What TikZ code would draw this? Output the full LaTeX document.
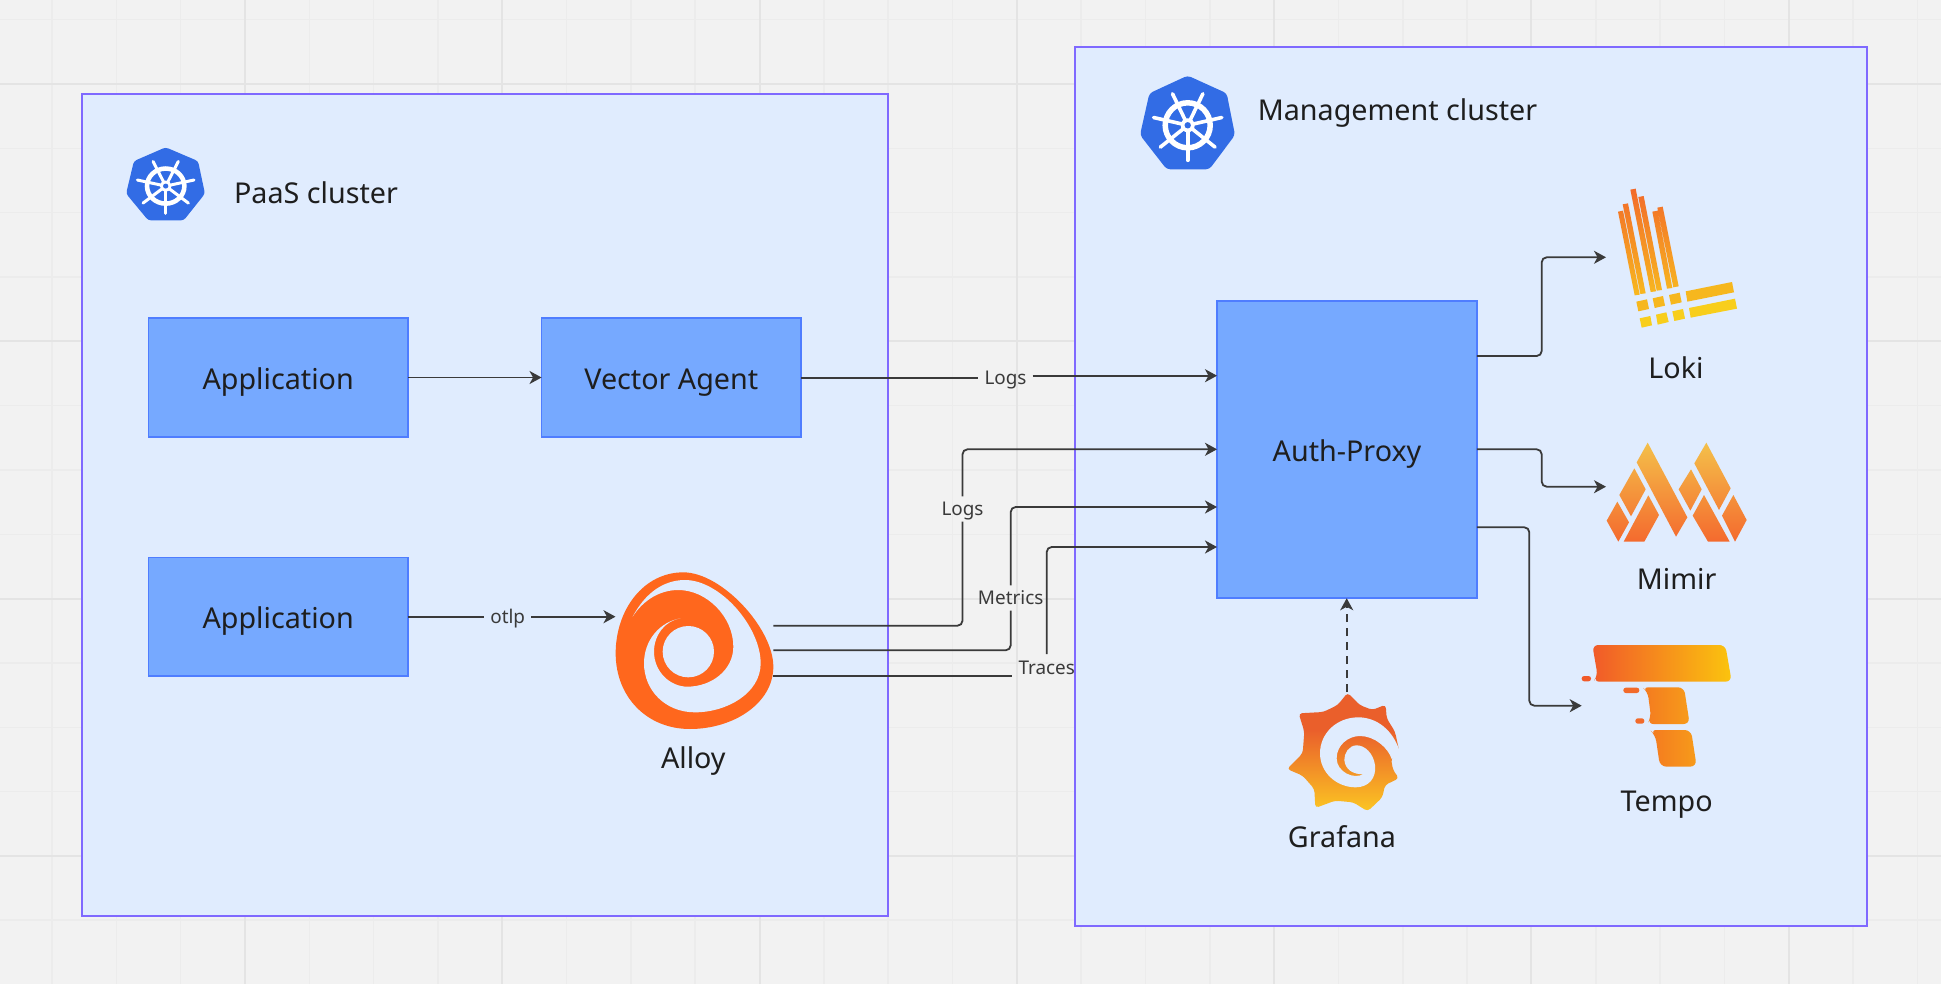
\documentclass[tikz,border=0pt]{standalone}
\usepackage{fontspec}
\setmainfont{Noto Sans}
\usetikzlibrary{arrows.meta}
\definecolor{pagebg}{HTML}{F2F2F2}
\definecolor{gridminor}{HTML}{ECECEC}
\definecolor{gridmajor}{HTML}{E4E4E4}
\definecolor{clusterfill}{HTML}{E0ECFE}
\definecolor{clusterline}{HTML}{7F69FF}
\definecolor{boxfill}{HTML}{76A9FF}
\definecolor{boxline}{HTML}{4F7DFF}
\definecolor{ink}{HTML}{1E1E1E}
\definecolor{wire}{HTML}{3A3A3A}
\definecolor{kubeblue}{HTML}{326CE5}
\definecolor{alloyorange}{HTML}{FF671D}
\definecolor{F-loki-top}{HTML}{F26A2A}
\definecolor{F-loki-bot}{HTML}{F8B81F}
\definecolor{F-loki-row1}{HTML}{F6B71E}
\definecolor{F-loki-row2}{HTML}{F8CE1C}
\definecolor{F-mimir-top}{HTML}{F4C04A}
\definecolor{F-mimir-bot}{HTML}{F46A2E}
\definecolor{F-tempo-left}{HTML}{F15A29}
\definecolor{F-tempo-right}{HTML}{FBC40E}
\definecolor{F-tempo-mid1}{HTML}{F47A20}
\definecolor{F-tempo-mid2}{HTML}{F79B1A}
\definecolor{F-tempo-pill}{HTML}{F26A2A}
\definecolor{F-graf-top}{HTML}{EA5F2B}
\definecolor{F-graf-bot}{HTML}{FBC423}
\tikzset{
  x=1pt,y=-1pt,
  clusterbox/.style={draw=clusterline,fill=clusterfill,line width=2pt,anchor=north west,inner sep=0pt,outer sep=0pt},
  svcbox/.style={draw=boxline,fill=boxfill,line width=1.8pt,inner sep=0pt,outer sep=0pt,text=ink,
     font=\fontsize{28.7}{34}\selectfont,text height=23pt,text depth=0pt},
  biglabel/.style={text=ink,font=\fontsize{28.7}{34}\selectfont,inner sep=0pt,anchor=base},
  edgelabel/.style={text=wire,font=\fontsize{18.9}{22}\selectfont,inner xsep=6pt,inner ysep=0pt,
     minimum height=25pt,text height=17pt,text depth=4pt},
  wireline/.style={draw=wire,line width=1.8pt,rounded corners=5pt},
  wirearrow/.style={wireline,-{Stealth[length=12pt,width=13pt,inset=3.5pt]}},
}
\newcommand{\kubeicon}[4]{%
  \begin{scope}[shift={(#1,#2)},x=#3pt,y=-#4pt]
    \fill[kubeblue,rounded corners=#3*3.5pt] (0,-48.7) -- (39,-31) -- (47.3,10.7) -- (21.7,45) -- (-21,45) -- (-47.7,10.7) -- (-38.3,-31) -- cycle;
    \foreach \a in {0,...,6} {
      \draw[white,line width=#3*3.6pt,line cap=round] (0,1) -- ++({90+\a*360/7}:35);
    }
    \draw[white,line width=#3*5.5pt] (0,1) ellipse (22.5 and 22.5);
    \fill[white] (0,1) circle (7);
    \fill[kubeblue] (0,1) circle (3.2);
  \end{scope}}
\begin{document}
\begin{tikzpicture}
\useasboundingbox (0,0) rectangle (1941,984);
\fill[pagebg] (0,0) rectangle (1941,984);
% canvas grid
\foreach \k in {-3,...,26} {
  \pgfmathsetmacro{\gx}{245+64.32*\k}
  \draw[gridminor,line width=1.6pt] (\gx,0) -- (\gx,984);
}
\foreach \k in {-1,...,14} {
  \pgfmathsetmacro{\gy}{84+64.33*\k}
  \draw[gridminor,line width=1.6pt] (0,\gy) -- (1941,\gy);
}
\foreach \k in {0,...,6} {
  \pgfmathsetmacro{\gx}{245+257.28*\k}
  \draw[gridmajor,line width=2pt] (\gx,0) -- (\gx,984);
}
\foreach \k in {0,...,3} {
  \pgfmathsetmacro{\gy}{84+257.33*\k}
  \draw[gridmajor,line width=2pt] (0,\gy) -- (1941,\gy);
}
% clusters
\node[clusterbox,minimum width=806pt,minimum height=822pt] (paas) at (81.5,94) {};
\node[clusterbox,minimum width=791.5pt,minimum height=879pt] (mgmt) at (1075,47) {};
\kubeicon{165.7}{185.3}{0.83}{0.78}
\kubeicon{1187.7}{124.3}{1}{1}
\node[biglabel] (paaslabel) at (316,203.5) {PaaS cluster};
\node[biglabel] (mgmtlabel) at (1397.5,120.7) {Management cluster};
% boxes
\node[svcbox,minimum width=259.5pt,minimum height=118.5pt] (app1) at (278.2,377.5) {Application};
\node[svcbox,minimum width=259.5pt,minimum height=118.5pt] (vector) at (671.3,377.5) {Vector Agent};
\node[svcbox,minimum width=259.5pt,minimum height=118.5pt] (app2) at (278.2,616.7) {Application};
\node[svcbox,minimum width=259.5pt,minimum height=297.5pt] (auth) at (1347,449.5) {Auth-Proxy};
% Alloy icon
\begin{scope}[shift={(590,550)},x=0.33333pt,y=-0.33333pt]
  \fill[alloyorange] (280,67) .. controls (395,67) and (550,235) .. (550,350)
     .. controls (550,460) and (430,537) .. (300,537)
     .. controls (170,537) and (77,440) .. (77,310)
     .. controls (77,180) and (160,67) .. (280,67) -- cycle;
  \fill[clusterfill] (128,200) .. controls (165,130) and (220,90) .. (285,90)
     .. controls (390,90) and (512,230) .. (512,340)
     .. controls (512,430) and (410,487) .. (315,487)
     .. controls (225,487) and (162,420) .. (162,340)
     .. controls (162,270) and (210,215) .. (272,205)
     .. controls (225,212) and (192,255) .. (192,305)
     .. controls (192,365) and (240,410) .. (292,410)
     .. controls (365,410) and (430,360) .. (430,290)
     .. controls (430,200) and (350,120) .. (265,120)
     .. controls (210,120) and (160,150) .. (128,200) -- cycle;
  \fill[clusterfill] (295,305) circle (77);
\end{scope}
\node[biglabel] (alloylabel) at (693.3,768.5) {Alloy};
% Loki icon
\begin{scope}[shift={(1580,170)},x=0.33333pt,y=-0.33333pt]
  \begin{scope}
    \clip (114,125) -- (129,122) -- (179,374) -- (164,376) -- cycle
          (128,103) -- (144,100) -- (197,370) -- (181,372) -- cycle
          (151,59) -- (167,56) -- (228,364) -- (212,366) -- cycle
          (175,81) -- (191,78) -- (246,360) -- (230,362) -- cycle
          (217,125) -- (233,122) -- (277,354) -- (261,356) -- cycle
          (232,113) -- (248,110) -- (296,349) -- (280,352) -- cycle;
    \shade[top color=F-loki-top,bottom color=F-loki-bot] (100,56) rectangle (310,376);
  \end{scope}
  \fill[F-loki-row1] (169,395) -- (201,388) -- (207,417) -- (175,424) -- cycle
     (218,385) -- (249,378) -- (255,407) -- (224,414) -- cycle
     (267,375) -- (299,368) -- (305,397) -- (273,404) -- cycle
     (317,364) -- (456,336) -- (462,367) -- (322,395) -- cycle;
  \fill[F-loki-row2] (179,445) -- (211,438) -- (216,466) -- (185,473) -- cycle
     (228,434) -- (259,427) -- (266,456) -- (233,464) -- cycle
     (277,424) -- (309,417) -- (315,446) -- (283,453) -- cycle
     (327,414) -- (465,386) -- (471,416) -- (332,443) -- cycle;
\end{scope}
\node[biglabel] (lokilabel) at (1676,378) {Loki};
% Mimir icon
\begin{scope}[shift={(1580,430)},x=0.33333pt,y=-0.33333pt]
  \begin{scope}
    \clip (203,38) -- (322,262) -- (288,320) -- (170,97) -- cycle
          (163,115) -- (197,178) -- (153,259) -- (118,195) -- cycle
          (112,215) -- (147,277) -- (115,335) -- (80,272) -- cycle
          (205,196) -- (237,255) -- (193,335) -- (131,335) -- cycle
          (379,38) -- (452,175) -- (417,240) -- (343,100) -- cycle
          (333,118) -- (365,178) -- (331,242) -- (296,178) -- cycle
          (372,195) -- (449,335) -- (384,335) -- (338,257) -- cycle
          (460,195) -- (500,270) -- (465,335) -- (426,257) -- cycle;
    \shade[top color=F-mimir-top,bottom color=F-mimir-bot] (70,38) rectangle (510,335);
  \end{scope}
\end{scope}
\node[biglabel] (mimirlabel) at (1676.7,589.3) {Mimir};
% Tempo icon
\begin{scope}[shift={(1580,430)},x=0.33333pt,y=-0.33333pt]
  \shade[left color=F-tempo-left,right color=F-tempo-right,rounded corners=6pt] (37,645) -- (436,645) -- (455,755) -- (40,755) -- (53,738) -- cycle;
  \shade[left color=F-tempo-mid1,right color=F-tempo-mid2,rounded corners=6pt] (187,772) -- (312,772) -- (329,882) -- (202,882) -- (213,862) -- (203,785) -- cycle;
  \shade[left color=F-tempo-mid1,right color=F-tempo-mid2,rounded corners=6.5pt] (210,900) -- (333,900) -- (350,1010) -- (240,1010) -- (226,915) -- cycle;
  \fill[F-tempo-left,rounded corners=2.5pt] (5,738) rectangle (33,754);
  \fill[F-tempo-pill,rounded corners=2.5pt] (130,773) rectangle (178,789);
  \fill[F-tempo-pill,rounded corners=2.5pt] (166,865) rectangle (193,881);
\end{scope}
\node[biglabel] (tempolabel) at (1666.7,811) {Tempo};
% Grafana icon
\begin{scope}[shift={(1285,690)},x=0.33333pt,y=-0.33333pt]
  \begin{scope}
    \clip[rounded corners=3.5pt] (188,8) -- (224,45) -- (262,60) -- (302,44) -- (305,85) -- (330,125) -- (343,185)
       -- (318,205) -- (324,240) -- (342,265) -- (300,285) -- (292,322) -- (248,364) -- (205,337)
       -- (150,332) -- (91,354) -- (88,297) -- (53,257) -- (6,237) -- (53,190) -- (58,125)
       -- (41,70) -- (115,66) -- (158,45) -- cycle;
    \shade[top color=F-graf-top,bottom color=F-graf-bot] (0,120) rectangle (350,360);
    \fill[F-graf-top] (0,0) rectangle (350,121);
  \end{scope}
  \fill[clusterfill] (345,187) .. controls (325,120) and (275,82) .. (220,82)
     .. controls (155,82) and (105,130) .. (105,190)
     .. controls (105,248) and (155,292) .. (212,292)
     .. controls (250,292) and (275,265) .. (270,225)
     .. controls (265,190) and (240,166) .. (215,166)
     .. controls (192,166) and (177,190) .. (178,210)
     .. controls (180,238) and (205,255) .. (236,252)
     .. controls (205,270) and (155,245) .. (155,205)
     .. controls (155,165) and (190,138) .. (225,138)
     .. controls (270,138) and (310,175) .. (320,207) -- cycle;
\end{scope}
\node[biglabel] (grafanalabel) at (1342,847.5) {Grafana};
% connector end points
\coordinate (logsin) at (1217,449.3);
\coordinate (metricsin) at (1217,507);
\coordinate (tracesin) at (1217,547);
\coordinate (alloylogs) at (773.3,625.7);
\coordinate (alloymetrics) at (773.3,650.3);
\coordinate (alloytraces) at (773.3,676.3);
\coordinate (alloyin) at (615.5,616.7);
\coordinate (vectorout) at (801,377.7);
\coordinate (vectorlogsin) at (1217,375.7);
\coordinate (lokiout) at (1476.8,356);
\coordinate (lokibend) at (1541.7,356);
\coordinate (lokitip) at (1606,257.3);
\coordinate (mimirout) at (1476.8,449.3);
\coordinate (mimirbend) at (1541.7,449.3);
\coordinate (mimirtip) at (1606,486.7);
\coordinate (tempoout) at (1476.8,527.3);
\coordinate (tempobend) at (1529.3,527.3);
\coordinate (tempotip) at (1581.7,705.7);
\coordinate (grafanatop) at (1346.7,692);
% connectors
\draw[wirearrow] (app1.east) -- (vector.west);
\node[edgelabel] (lbllogsa) at (1005.5,377.5) {Logs};
\draw[wireline] (vectorout) -- (lbllogsa.west |- vectorout);
\draw[wirearrow] (lbllogsa.east |- vectorlogsin) -- (vectorlogsin);
\node[edgelabel] (lblotlp) at (507.7,616.7) {otlp};
\draw[wireline] (app2.east) -- (lblotlp.west);
\draw[wirearrow] (lblotlp.east) -- (alloyin);
\node[edgelabel] (lbllogsb) at (962.5,509) {Logs};
\draw[wireline] (alloylogs) -| (lbllogsb.south);
\draw[wirearrow] (lbllogsb.north) |- (logsin);
\node[edgelabel] (lblmetrics) at (1010.7,598) {Metrics};
\draw[wireline] (alloymetrics) -| (lblmetrics.south);
\draw[wirearrow] (lblmetrics.north) |- (metricsin);
\node[edgelabel,minimum height=28pt] (lbltraces) at (1046.7,668.3) {Traces};
\draw[wireline] (alloytraces) -- (lbltraces.west |- alloytraces);
\draw[wirearrow] (lbltraces.north) |- (tracesin);
\draw[wirearrow] (lokiout) -- (lokibend) |- (lokitip);
\draw[wirearrow] (mimirout) -- (mimirbend) |- (mimirtip);
\draw[wirearrow] (tempoout) -- (tempobend) |- (tempotip);
\draw[wirearrow,dashed,dash pattern=on 8pt off 6pt] (grafanatop) -- (grafanatop |- auth.south);
\end{tikzpicture}
\end{document}
